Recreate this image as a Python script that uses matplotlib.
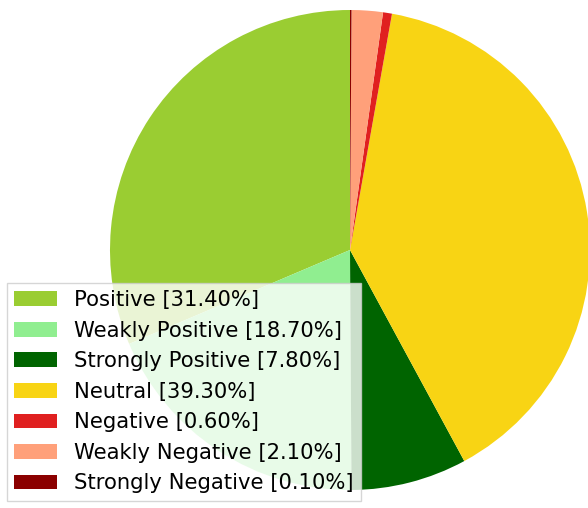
import matplotlib.pyplot as plt

# Distribuzione del sentiment (percentuali)
labels = ['Positive', 'Weakly Positive', 'Strongly Positive', 'Neutral',
          'Negative', 'Weakly Negative', 'Strongly Negative']
percentages = [31.4, 18.7, 7.8, 39.3, 0.6, 2.1, 0.1]
colors = ['yellowgreen', 'lightgreen', 'darkgreen', '#f8d414',
          '#e02020', 'lightsalmon', 'darkred']

fig = plt.figure(figsize=(5.88, 5.08), dpi=100)
ax = fig.add_axes([110 / 588, 18 / 508, 480 / 588, 480 / 508])

wedges, _ = ax.pie(percentages, colors=colors, startangle=90,
                   counterclock=True, radius=1)
ax.set_xlim(-1, 1)
ax.set_ylim(-1, 1)
ax.axis('off')

legend_labels = [f'{l} [{p:.2f}%]' for l, p in zip(labels, percentages)]
fig.legend(wedges, legend_labels, loc='lower left',
           bbox_to_anchor=(0.012, 0.014), borderaxespad=0,
           fontsize=15.2, handlelength=2.0, handletextpad=0.8,
           labelspacing=0.5, borderpad=0.35,
           framealpha=0.8, fancybox=False, edgecolor='#cccccc')

plt.savefig('out.png', dpi=100)
